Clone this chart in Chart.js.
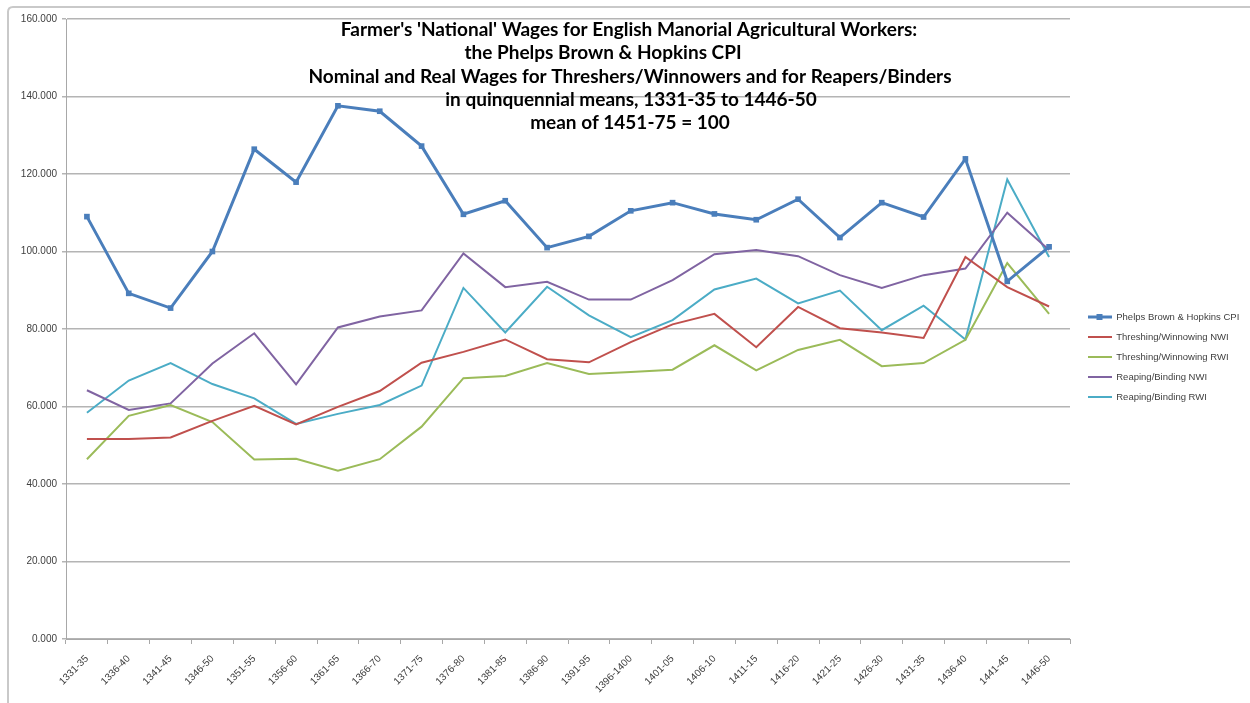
<!DOCTYPE html>
<html>
<head>
<meta charset="utf-8">
<script src="https://cdn.jsdelivr.net/npm/chart.js@4/dist/chart.umd.min.js"></script>
<style>
  html, body { margin: 0; padding: 0; background: #ffffff; }
  #wrap { width: 1250px; height: 703px; position: relative; }
</style>
</head>
<body>
<div id="wrap"><canvas id="c" width="1250" height="703"></canvas></div>
<script>
const categories = ['1331-35','1336-40','1341-45','1346-50','1351-55','1356-60','1361-65','1366-70','1371-75','1376-80','1381-85','1386-90','1391-95','1396-1400','1401-05','1406-10','1411-15','1416-20','1421-25','1426-30','1431-35','1436-40','1441-45','1446-50'];

const cpi   = [109.0, 89.2, 85.4, 100.0, 126.4, 117.9, 137.6, 136.2, 127.2, 109.6, 113.1, 101.0, 103.9, 110.5, 112.6, 109.7, 108.2, 113.5, 103.6, 112.6, 108.9, 123.9, 92.3, 101.2];
const thNWI = [51.6, 51.6, 52.0, 56.3, 60.2, 55.4, 59.9, 64.0, 71.3, 74.1, 77.3, 72.2, 71.4, 76.6, 81.2, 83.9, 75.3, 85.7, 80.2, 79.1, 77.7, 98.6, 90.8, 85.8];
const thRWI = [46.4, 57.6, 60.4, 56.0, 46.3, 46.5, 43.4, 46.4, 54.8, 67.3, 67.9, 71.2, 68.4, 68.9, 69.5, 75.8, 69.3, 74.6, 77.2, 70.4, 71.2, 77.2, 97.0, 83.9];
const rbNWI = [64.2, 59.1, 60.8, 71.1, 78.9, 65.7, 80.4, 83.2, 84.8, 99.5, 90.8, 92.2, 87.6, 87.6, 92.6, 99.3, 100.4, 98.8, 93.9, 90.6, 93.9, 95.6, 110.0, 100.4];
const rbRWI = [58.4, 66.7, 71.2, 65.8, 62.1, 55.5, 58.1, 60.4, 65.4, 90.6, 79.1, 90.9, 83.5, 77.9, 82.3, 90.2, 93.0, 86.6, 89.9, 79.7, 86.0, 77.3, 118.6, 98.6];

const seriesNames = ['Phelps Brown & Hopkins CPI','Threshing/Winnowing NWI','Threshing/Winnowing RWI','Reaping/Binding NWI','Reaping/Binding RWI'];
const yTicks = { min: 0, max: 160, step: 20 };

const titleLines = [
  { text: "Farmer's 'National' Wages for English Manorial Agricultural Workers:", cx: 629, cy: 30 },
  { text: "the Phelps Brown & Hopkins CPI", cx: 603, cy: 53 },
  { text: "Nominal and Real Wages for Threshers/Winnowers and for Reapers/Binders", cx: 630, cy: 77 },
  { text: "in quinquennial means, 1331-35 to 1446-50", cx: 631, cy: 100 },
  { text: "mean of 1451-75 = 100", cx: 630, cy: 123 }
];

const colors = ['#4A7EBB', '#C0504D', '#9BBB59', '#8064A2', '#4BACC6'];
const widths = [3, 2, 2, 2, 2];

function legendIcon(color, lw, marker) {
  const cv = document.createElement('canvas');
  cv.width = 24; cv.height = 8;
  const g = cv.getContext('2d');
  g.strokeStyle = color; g.lineWidth = lw;
  g.beginPath(); g.moveTo(0, 4); g.lineTo(24, 4); g.stroke();
  if (marker) { g.fillStyle = color; g.fillRect(9, 1, 6, 6); }
  return cv;
}
const icons = colors.map((c, i) => legendIcon(c, widths[i], i === 0));

const frame = {
  id: 'frame',
  beforeDraw(chart) {
    const ctx = chart.ctx;
    ctx.save();
    ctx.strokeStyle = '#c9c9c9';
    ctx.lineWidth = 2;
    ctx.beginPath();
    ctx.moveTo(8, 703);
    ctx.lineTo(8, 12);
    ctx.quadraticCurveTo(8, 7, 13, 7);
    ctx.lineTo(1250, 7);
    ctx.stroke();
    ctx.restore();
  }
};

const titlePlugin = {
  id: 'titleText',
  afterDraw(chart) {
    const ctx = chart.ctx;
    ctx.save();
    ctx.font = 'bold 19px Lato, "Open Sans", sans-serif';
    ctx.fillStyle = '#000000';
    ctx.textAlign = 'center';
    ctx.textBaseline = 'middle';
    titleLines.forEach(l => ctx.fillText(l.text, l.cx, l.cy));
    ctx.restore();
  }
};

const legendFix = {
  id: 'legendFix',
  beforeLayout(chart) {
    const lg = chart.legend;
    if (lg && !lg._patched) {
      const orig = lg.fit;
      lg.fit = function () { orig.call(this); this.width = 180; };
      lg._patched = true;
    }
  },
  afterLayout(chart) {
    const lg = chart.legend;
    if (lg) {
      lg.left += 7; lg.right += 7;
      lg.top -= 4; lg.bottom -= 4;
    }
  }
};

const datasets = [cpi, thNWI, thRWI, rbNWI, rbRWI].map((d, i) => ({
  label: seriesNames[i],
  data: d,
  borderColor: colors[i],
  backgroundColor: colors[i],
  borderWidth: widths[i],
  pointStyle: i === 0 ? 'rect' : 'circle',
  pointRadius: i === 0 ? 4 : 0,
  pointBorderWidth: 0,
  tension: 0,
  fill: false
}));

new Chart(document.getElementById('c'), {
  type: 'line',
  data: { labels: categories, datasets },
  plugins: [frame, titlePlugin, legendFix],
  options: {
    responsive: false,
    animation: false,
    devicePixelRatio: 1,
    layout: { padding: { top: 19, left: 0, right: 0, bottom: 0 } },
    plugins: {
      title: { display: false },
      tooltip: { enabled: false },
      legend: {
        position: 'right',
        align: 'center',
        labels: {
          usePointStyle: true,
          pointStyleWidth: 24,
          padding: 10.5,
          color: '#404040',
          font: { family: '"Liberation Sans", Arial, sans-serif', size: 9.5 },
          generateLabels(chart) {
            return chart.data.datasets.map((ds, i) => ({
              text: ds.label,
              pointStyle: icons[i],
              fillStyle: ds.borderColor,
              strokeStyle: ds.borderColor,
              lineWidth: 0,
              hidden: false,
              datasetIndex: i,
              fontColor: '#404040'
            }));
          }
        }
      }
    },
    scales: {
      x: {
        offset: true,
        afterFit(s) { s.height = 64; },
        grid: { display: true, drawOnChartArea: false, drawTicks: true, tickLength: 5, color: '#a8a8a8', offset: true, lineWidth: 1 },
        border: { display: true, color: '#a8a8a8', width: 1 },
        ticks: {
          autoSkip: false,
          maxRotation: 45,
          minRotation: 45,
          padding: 9,
          color: '#404040',
          font: { family: '"Liberation Sans", Arial, sans-serif', size: 10 }
        }
      },
      y: {
        min: yTicks.min,
        max: yTicks.max,
        afterFit(s) { s.width = 66; },
        grid: { color: '#b4b4b4', lineWidth: 1.5, drawTicks: true, tickLength: 4 },
        border: { display: true, color: '#a8a8a8', width: 1 },
        ticks: {
          stepSize: yTicks.step,
          padding: 5,
          color: '#404040',
          font: { family: '"Liberation Sans", Arial, sans-serif', size: 10 },
          callback: v => Number(v).toFixed(3)
        }
      }
    }
  }
});
</script>
</body>
</html>
